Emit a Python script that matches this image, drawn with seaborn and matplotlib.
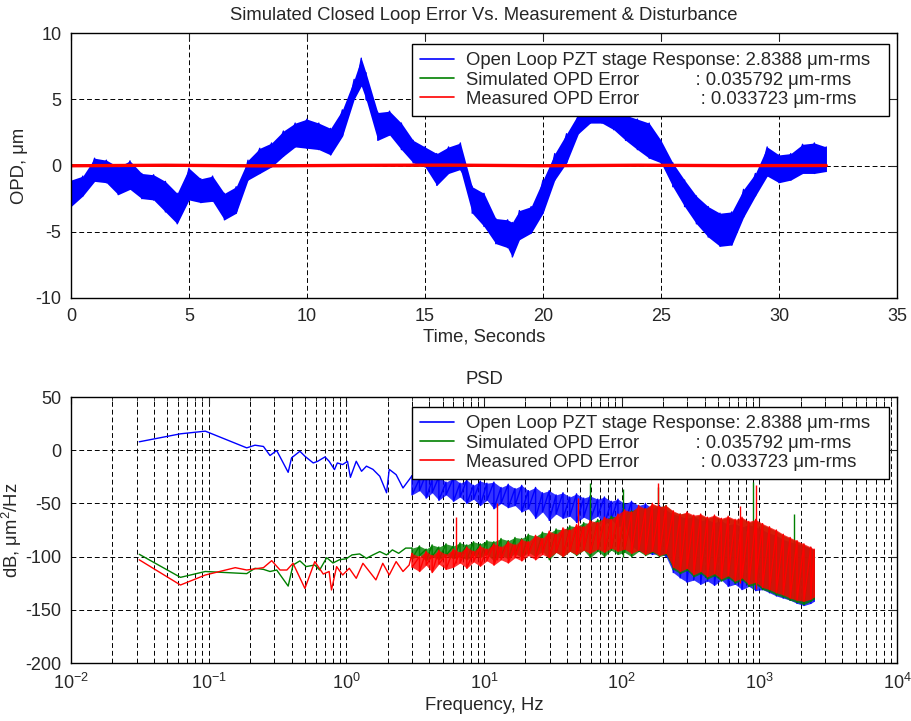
import matplotlib
matplotlib.use("Agg")
import matplotlib.pyplot as plt
from matplotlib.lines import Line2D
from matplotlib.ticker import NullFormatter
import numpy as np
import pandas as pd
import seaborn as sns

# ---- top panel: open loop disturbance, envelope ----
time_s = [0.0, 0.5, 1.0, 1.5, 2.0, 2.5, 3.0, 3.5, 4.0, 4.5, 5.0, 5.5, 6.0, 6.5,
          7.0, 7.5, 8.0, 8.5, 9.0, 9.5, 10.0, 10.5, 11.0, 11.5, 12.0, 12.3,
          12.5, 13.0, 13.5, 14.0, 14.5, 15.0, 15.5, 16.0, 16.5, 17.0, 17.5,
          18.0, 18.5, 18.7, 19.0, 19.5, 20.0, 20.5, 21.0, 21.5, 22.0, 22.5,
          23.0, 23.5, 24.0, 24.5, 25.0, 25.5, 26.0, 26.5, 27.0, 27.5, 28.0,
          28.5, 29.0, 29.5, 30.0, 30.5, 31.0, 31.5, 32.0]
open_hi = [-1.1, -0.8, 0.55, 0.4, -0.1, 0.35, -0.6, -0.7, -1.2, -2.1, -0.2,
           -1.0, -0.8, -2.1, -1.6, 0.4, 1.3, 1.7, 2.6, 3.2, 3.5, 3.2, 2.8, 4.2,
           6.5, 8.1, 7.0, 4.0, 4.1, 3.2, 1.9, 1.4, 0.9, 1.4, 1.7, -1.6, -2.1,
           -4.0, -4.1, -4.3, -3.4, -3.1, -1.1, 0.9, 2.4, 3.9, 4.0, 4.0, 3.9,
           3.8, 3.5, 3.2, 1.9, 0.2, -1.1, -2.3, -3.1, -3.6, -3.5, -1.8, -0.6,
           1.4, 0.8, 0.9, 1.6, 1.7, 1.4]
open_lo = [-3.1, -2.3, -1.2, -1.3, -2.2, -1.8, -2.5, -2.6, -3.5, -4.4, -2.6,
           -2.8, -2.7, -4.1, -3.6, -1.1, -0.6, -0.1, 0.7, 1.4, 1.3, 1.2, 0.8,
           2.2, 5.0, 6.0, 5.0, 1.9, 2.3, 1.2, 0.2, -0.1, -1.5, -0.6, -0.3,
           -3.6, -4.6, -5.9, -6.2, -6.9, -5.6, -5.1, -3.6, -1.1, 0.2, 2.4, 3.2,
           3.2, 2.7, 1.9, 1.2, 0.55, 0.2, -1.6, -3.1, -4.4, -5.4, -6.1, -6.0,
           -3.9, -2.3, -0.8, -1.3, -1.1, -0.6, -0.6, -0.45]

# closed loop errors stay on zero
err_t = [0, 4, 8, 12, 16, 20, 24, 28, 32]
sim_err = [0.02, -0.03, 0.01, 0.03, -0.02, 0.02, -0.01, 0.03, 0.0]
meas_err = [-0.02, 0.02, -0.03, 0.01, 0.03, -0.02, 0.02, -0.01, 0.0]

# ---- bottom panel: PSD, low frequency part read point by point ----
blue_f = [0.0313, 0.0624, 0.0946, 0.189, 0.217, 0.25, 0.279, 0.312, 0.378,
          0.40, 0.46, 0.50, 0.575, 0.62, 0.70, 0.75, 0.82, 0.86, 0.94, 1.02,
          1.07, 1.18, 1.29, 1.40, 1.56, 1.75, 1.96, 2.05, 2.30, 2.58, 2.86,
          3.0]
blue_db = [7.9, 15.4, 17.9, 2.2, 4.7, 3.5, -5.0, -0.3, -20.8, -7.2, -1.0,
           -5.7, -12.0, -10.4, -6.3, -10.4, -18.2, -12.0, -13.5, -10.4, -25.5,
           -10.4, -19.8, -15.0, -18.0, -24.5, -40.0, -18.0, -23.0, -35.5, -27.7,
           -24.0]
green_f = [0.0313, 0.0624, 0.0946, 0.189, 0.217, 0.25, 0.279, 0.312, 0.378,
           0.41, 0.46, 0.51, 0.59, 0.64, 0.72, 0.80, 0.89, 1.0, 1.1, 1.25,
           1.40, 1.56, 1.75, 1.96, 2.16, 2.40, 2.70, 3.0]
green_db = [-97.8, -119.5, -114.0, -116.0, -111.0, -112.0, -114.0, -112.6,
            -127.7, -107.9, -104.0, -109.4, -107.9, -112.6, -101.0, -106.0,
            -103.0, -102.0, -98.4, -97.5, -101.6, -98.4, -95.3, -98.4, -93.7,
            -96.9, -92.0, -92.0]
red_f = [0.0313, 0.0624, 0.0946, 0.156, 0.189, 0.25, 0.287, 0.33, 0.37, 0.41,
         0.50, 0.59, 0.68, 0.75, 0.78, 0.85, 0.94, 1.05, 1.18, 1.32, 1.47,
         1.64, 1.84, 2.05, 2.30, 2.58, 2.86, 3.0]
red_db = [-103.0, -126.7, -117.3, -110.4, -112.6, -110.4, -103.8, -112.6,
          -112.6, -106.3, -129.9, -104.7, -116.4, -114.0, -131.4, -109.4,
          -117.3, -111.0, -120.4, -106.3, -114.0, -121.9, -106.3, -117.3,
          -104.7, -114.0, -107.9, -97.0]

# 3 Hz .. 2.5 kHz: dense noise, upper / lower swing read in dB
band_f = [3.0, 3.4, 3.8, 4.2, 4.7, 5.3, 6.0, 6.7, 7.5, 8.4, 9.4, 10.5, 11.8,
          13.3, 15, 16.8, 18.8, 21, 23.7, 26.6, 29.8, 33.4, 37.5, 42, 47, 53,
          59, 67, 75, 84, 94, 105, 118, 133, 149, 167, 188, 210, 237, 266,
          298, 334, 375, 420, 472, 530, 594, 667, 748, 839, 941, 1056, 1185,
          1330, 1492, 1674, 1878, 2107, 2364, 2500]
blue_hi = [-24, -27, -22, -28, -25, -30, -26, -31, -28, -33, -29, -31, -30,
           -35, -32, -36, -33, -38, -35, -40, -38, -42, -40, -44, -41, -45,
           -43, -46, -44, -48, -46, -50, -48, -52, -50, -55, -52, -56, -60,
           -62, -64, -62, -66, -65, -68, -66, -70, -69, -72, -70, -72, -75,
           -78, -80, -84, -86, -88, -90, -92, -94]
blue_lo = [-42, -38, -45, -40, -47, -42, -48, -44, -50, -46, -52, -47, -55,
           -50, -54, -52, -58, -55, -64, -58, -66, -60, -64, -62, -68, -63,
           -66, -62, -70, -65, -72, -70, -90, -95, -96, -98, -97, -100, -115,
           -120, -124, -122, -126, -123, -127, -122, -128, -126, -131, -128,
           -132, -131, -134, -137, -139, -141, -144, -146, -144, -142]
green_hi = [-92, -90, -93, -89, -91, -88, -90, -87, -89, -86, -88, -85, -86,
            -83, -85, -82, -83, -79, -81, -77, -78, -74, -75, -71, -72, -68,
            -69, -65, -66, -62, -63, -58, -57, -54, -55, -51, -53, -52, -58,
            -60, -59, -62, -61, -64, -62, -65, -63, -66, -64, -68, -66, -70,
            -73, -76, -80, -83, -86, -89, -92, -94]
green_lo = [-102, -99, -104, -100, -103, -99, -102, -100, -103, -99, -101,
            -98, -104, -99, -102, -97, -101, -96, -100, -95, -103, -96, -100,
            -95, -99, -94, -101, -95, -100, -94, -98, -96, -100, -95, -99,
            -96, -100, -98, -112, -116, -113, -119, -116, -121, -118, -123,
            -120, -125, -122, -128, -126, -131, -133, -136, -138, -141, -143,
            -145, -142, -140]
red_hi = [-97, -100, -95, -99, -94, -98, -93, -96, -91, -95, -90, -93, -88,
          -91, -86, -89, -84, -86, -80, -83, -76, -79, -73, -75, -70, -72,
          -66, -68, -63, -65, -60, -56, -58, -52, -55, -50, -53, -52, -57,
          -60, -58, -61, -60, -63, -61, -64, -62, -65, -63, -67, -65, -69,
          -72, -75, -79, -82, -85, -88, -91, -93]
red_lo = [-110, -114, -108, -115, -107, -112, -110, -106, -111, -105, -109,
          -104, -108, -103, -106, -101, -104, -99, -103, -98, -101, -96, -100,
          -95, -98, -94, -97, -93, -96, -92, -95, -93, -97, -94, -98, -95,
          -99, -97, -110, -114, -111, -117, -114, -119, -116, -121, -118,
          -123, -120, -126, -124, -129, -131, -134, -136, -139, -141, -142,
          -140, -138]

# single tall peaks standing out of the bands
red_spike_f = [6.3, 12.4, 48, 183, 718, 940]
red_spike_top = [-63, -50, -45, -31, -52, -33]
red_spike_base = [-106, -103, -94, -97, -125, -130]
green_spike_f = [59, 102, 185, 900, 1800]
green_spike_top = [-31, -36, -35, -30, -60]
green_spike_base = [-95, -100, -97, -130, -140]

freq_ticks = [1e-2, 1e-1, 1e0, 1e1, 1e2, 1e3, 1e4]

BLUE = (0.0, 0.0, 1.0)
GREEN = (0.0, 0.5, 0.0)
RED = (1.0, 0.0, 0.0)
GRID = dict(color="black", linestyle=(0, (5, 3)), linewidth=0.7)

LABELS = [
    "Open Loop PZT stage Response: 2.8388 \u03bcm-rms  ",
    "Simulated OPD Error           : 0.035792 \u03bcm-rms",
    "Measured OPD Error            : 0.033723 \u03bcm-rms",
]


def strokes(x, hi, lo):
    # vertical strokes hi -> lo at each read sample
    xs = np.repeat(np.asarray(x, dtype=float), 2)
    ys = np.column_stack([hi, lo]).ravel()
    return pd.DataFrame({"x": xs, "y": ys})


def add_legend(ax, top_px):
    handles = [Line2D([], [], color=c, lw=1.2) for c in (BLUE, GREEN, RED)]
    leg = ax.legend(handles, LABELS, loc="upper right",
                    bbox_to_anchor=(889 / 912, 1 - top_px / 721),
                    bbox_transform=ax.figure.transFigure,
                    borderaxespad=0, borderpad=0.45, labelspacing=0.12,
                    handlelength=1.85, handletextpad=0.65, fancybox=False,
                    framealpha=1, edgecolor="black", fontsize=13.3)
    leg.get_frame().set_linewidth(1.0)
    leg.set_zorder(20)


def style_axes(ax):
    ax.tick_params(direction="in", top=True, right=True, labelsize=13,
                   length=5, width=0.8, pad=7)
    ax.tick_params(which="minor", direction="in", top=True, length=3,
                   width=0.6)
    for sp in ax.spines.values():
        sp.set_color("black")
        sp.set_linewidth(1.0)
        sp.set_zorder(15)


def draw_band(ax, f, hi, lo, color, z):
    ax.fill_between(f, lo, hi, color=color, lw=0, alpha=0.8, zorder=z)
    sns.lineplot(data=strokes(f, hi, lo), x="x", y="y", ax=ax, color=color,
                 lw=1.0, sort=False, estimator=None, zorder=z)


def main() -> None:
    sns.set_style("white")
    plt.rcParams["font.family"] = ["Liberation Sans", "DejaVu Sans"]
    plt.rcParams["mathtext.default"] = "regular"
    plt.rcParams["axes.unicode_minus"] = False

    fig = plt.figure(figsize=(9.12, 7.21), dpi=100)
    ax1 = fig.add_axes([71 / 912, 1 - 298 / 721, 826 / 912, 265 / 721])
    ax2 = fig.add_axes([71 / 912, 1 - 663 / 721, 826 / 912, 266 / 721])

    # ---- time domain ----
    ax1.fill_between(time_s, open_lo, open_hi, color=BLUE, lw=0, zorder=2)
    z = strokes(time_s, open_hi, open_lo)
    sns.lineplot(data=z, x="x", y="y", ax=ax1, color=BLUE, lw=1.0,
                 sort=False, estimator=None, zorder=3)
    sns.lineplot(x=err_t, y=sim_err, ax=ax1, color=GREEN, lw=1.5, zorder=4)
    sns.lineplot(x=err_t, y=meas_err, ax=ax1, color=RED, lw=2.4, zorder=5)

    ax1.set_xlim(0, 35)
    ax1.set_ylim(-10, 10)
    ax1.set_xticks(range(0, 36, 5))
    ax1.set_yticks(range(-10, 11, 5))
    ax1.grid(True, **GRID)
    ax1.set_axisbelow(True)
    ax1.set_title("Simulated Closed Loop Error Vs. Measurement & Disturbance",
                  fontsize=13.3, pad=9)
    ax1.set_xlabel("Time, Seconds", fontsize=13.3, labelpad=3)
    ax1.set_ylabel("OPD, \u03bcm", fontsize=13.3)
    ax1.yaxis.set_label_coords(-0.052, 0.5)
    style_axes(ax1)
    add_legend(ax1, 44)

    # ---- PSD ----
    ax2.set_xscale("log")
    sns.lineplot(x=blue_f, y=blue_db, ax=ax2, color=BLUE, lw=1.0, zorder=2)
    draw_band(ax2, band_f, blue_hi, blue_lo, BLUE, 2)

    sns.lineplot(x=green_f, y=green_db, ax=ax2, color=GREEN, lw=1.0, zorder=3)
    draw_band(ax2, band_f, green_hi, green_lo, GREEN, 3)
    ax2.vlines(green_spike_f, green_spike_base, green_spike_top, color=GREEN,
               lw=1.0, zorder=3)

    sns.lineplot(x=red_f, y=red_db, ax=ax2, color=RED, lw=1.0, zorder=4)
    draw_band(ax2, band_f, red_hi, red_lo, RED, 4)
    ax2.vlines(red_spike_f, red_spike_base, red_spike_top, color=RED, lw=1.0,
               zorder=4)

    ax2.set_xlim(1e-2, 1e4)
    ax2.set_xticks(freq_ticks)
    ax2.xaxis.set_minor_formatter(NullFormatter())
    ax2.set_ylim(-200, 50)
    ax2.set_yticks(range(-200, 51, 50))
    ax2.grid(True, which="major", **GRID)
    ax2.grid(True, which="minor", axis="x", **GRID)
    ax2.set_axisbelow(True)
    ax2.set_title("PSD", fontsize=13.3, pad=9)
    ax2.set_xlabel("Frequency, Hz", fontsize=13.3, labelpad=3)
    ax2.set_ylabel("dB, \u03bcm$^2$/Hz", fontsize=13.3)
    ax2.yaxis.set_label_coords(-0.057, 0.5)
    style_axes(ax2)
    add_legend(ax2, 407)

    fig.savefig("out.png", dpi=100, facecolor="white")
    plt.close(fig)


if __name__ == "__main__":
    main()
